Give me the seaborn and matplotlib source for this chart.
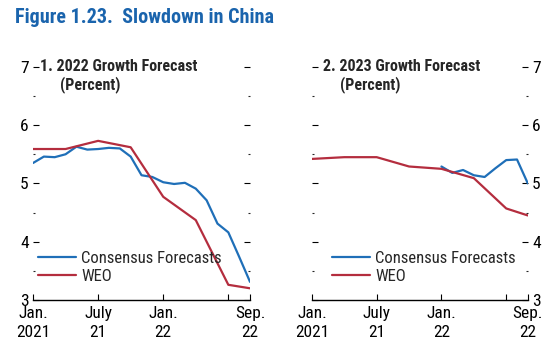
import pandas as pd
import matplotlib
matplotlib.use("Agg")
import matplotlib.pyplot as plt
import matplotlib.transforms as mtransforms
import seaborn as sns

# months since Jan. 2021
cf_months_22 = list(range(0, 21))
cf_2022 = [5.35, 5.46, 5.45, 5.50, 5.63, 5.58, 5.59, 5.61, 5.60, 5.46, 5.14,
           5.11, 5.02, 4.99, 5.01, 4.91, 4.71, 4.31, 4.16, 3.74, 3.31]
weo_months = [0, 3, 6, 9, 12, 15, 18, 20]
weo_2022 = [5.59, 5.59, 5.73, 5.62, 4.77, 4.37, 3.26, 3.20]

cf_months_23 = list(range(12, 21))
cf_2023 = [5.29, 5.18, 5.23, 5.14, 5.11, 5.26, 5.40, 5.41, 5.00]
weo_2023 = [5.42, 5.45, 5.45, 5.29, 5.25, 5.09, 4.57, 4.45]

tick_pos = [0, 6, 12, 18, 20]
tick_labels = ["Jan.\n2021", "July\n21", "Jan.\n22", "", "Sep.\n22"]
panel_titles = ["1. 2022 Growth Forecast", "2. 2023 Growth Forecast"]
series_names = ["Consensus Forecasts", "WEO"]

BLUE = "#1f6fb8"
RED = "#b42d3e"
TITLE_BLUE = "#1a64ad"

sns.set_style("white")
plt.rcParams["font.family"] = ["Roboto Condensed", "DejaVu Sans"]


def long_df(cf_m, cf_v, w_m, w_v):
    a = pd.DataFrame({"month": cf_m, "value": cf_v, "series": series_names[0]})
    b = pd.DataFrame({"month": w_m, "value": w_v, "series": series_names[1]})
    return pd.concat([a, b], ignore_index=True)


panels = [
    long_df(cf_months_22, cf_2022, weo_months, weo_2022),
    long_df(cf_months_23, cf_2023, weo_months, weo_2023),
]

fig = plt.figure(figsize=(5.55, 3.5), dpi=100)
ax1 = fig.add_axes([0.0595, 0.143, 0.391, 0.666])
ax2 = fig.add_axes([0.562, 0.143, 0.389, 0.666])

fig.text(0.027, 0.949, "Figure 1.23.  Slowdown in China", fontsize=14.5,
         fontweight="bold", color=TITLE_BLUE, va="center", ha="left")

for i, (ax, df) in enumerate(zip([ax1, ax2], panels)):
    sns.lineplot(data=df, x="month", y="value", hue="series",
                 hue_order=series_names, palette=[BLUE, RED],
                 linewidth=1.6, ax=ax)
    ax.set_xlim(0, 20)
    ax.set_ylim(3, 7)
    ax.set_xlabel("")
    ax.set_ylabel("")
    for s in ["top", "left", "right"]:
        ax.spines[s].set_visible(False)
    ax.spines["bottom"].set_color("black")
    ax.spines["bottom"].set_linewidth(1.0)

    ax.set_xticks(tick_pos)
    ax.set_xticklabels(tick_labels, fontsize=12.5, linespacing=1.4)
    ax.xaxis.get_major_ticks()[-1].tick1line.set_visible(False)
    ax.tick_params(axis="x", direction="in", length=4, width=0.8,
                   bottom=True, pad=4, colors="black")

    ax.set_yticks([3, 4, 5, 6, 7])
    ax.set_yticks([3.5, 4.5, 5.5, 6.5], minor=True)
    ax.set_yticklabels(["3", "4", "5", "6", "7"], fontsize=12.5)
    ax.tick_params(axis="y", which="major", direction="in", length=4,
                   width=0.8, left=True, right=True, pad=3, colors="black")
    ax.tick_params(axis="y", which="minor", direction="in", length=1.5,
                   width=0.8, left=True, right=True)
    if i == 0:
        ax.tick_params(axis="y", labelleft=True, labelright=False)
        tx, px, lx = 0.032, 0.125, 0.023
    else:
        ax.tick_params(axis="y", labelleft=False, labelright=True)
        tx, px, lx = 0.05, 0.13, 0.093

    trans = mtransforms.blended_transform_factory(ax.transAxes, ax.transData)
    ax.text(tx, 7, panel_titles[i], fontsize=11.5, fontweight="bold",
            va="center", ha="left", transform=trans)
    ax.text(px, 6.69, "(Percent)", fontsize=11.5, fontweight="bold",
            va="center", ha="left", transform=trans)

    ax.legend(loc="center left", bbox_to_anchor=(lx, 0.139), frameon=False,
              fontsize=12, handlelength=2.3, handletextpad=0.3,
              labelspacing=0.15, borderpad=0, borderaxespad=0)

fig.savefig("out.png", dpi=100)
